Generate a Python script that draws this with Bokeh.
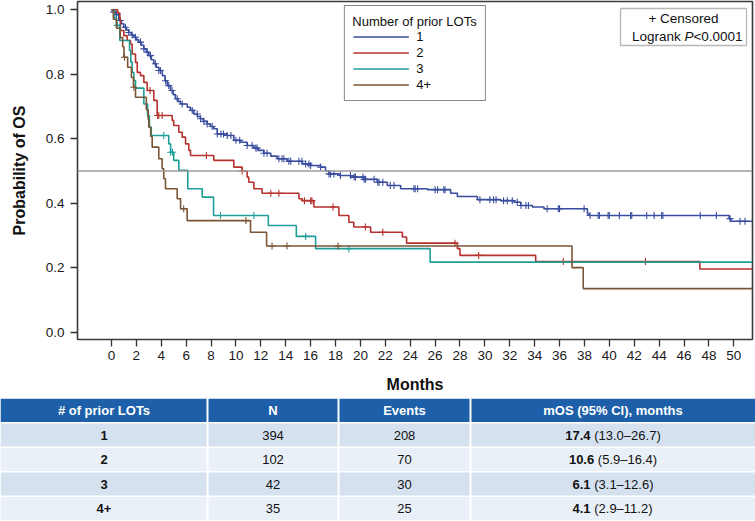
import numpy as np
from bokeh.plotting import figure
from bokeh.models import (Range1d, FixedTicker, Span, Legend, LegendItem, Label,
                          BoxAnnotation, NumeralTickFormatter)
from bokeh.layouts import column, row
from bokeh.embed import file_html
from bokeh.resources import INLINE

FONT = "Liberation Sans"

# ---------------- data ----------------
groups = ["1", "2", "3", "4+"]
colors = ["#3a4d9f", "#b5322e", "#1f9e98", "#7b5534"]

blue_t = [0, 0.18, 0.35, 0.59, 0.8, 0.99, 1.2, 1.39, 1.6, 1.79, 2.0, 2.19, 2.4, 2.6, 2.8, 3.0, 3.2, 3.4, 3.6, 3.8,
          4.08, 4.3, 4.48, 4.74, 4.95, 5.14, 5.35, 5.55, 6.09, 6.35, 6.62, 6.9, 7.15, 7.4, 7.69, 7.95, 8.22, 8.5, 9.3,
          9.83, 10.37, 10.9, 11.44, 11.8, 12.24, 12.8, 13.32, 14.12, 15.33, 16.0, 16.8, 17.2, 17.47, 18.3, 19.21,
          20.28, 21.36, 22.16, 23.23, 25.38, 27.25, 27.79, 29.4, 31.27, 32.34, 32.88, 33.82, 34.75, 38.24, 38.37,
          49.62, 49.76]
blue_s = [1.0, 0.993, 0.985, 0.967, 0.957, 0.946, 0.938, 0.93, 0.922, 0.915, 0.907, 0.9, 0.89, 0.879, 0.869, 0.858,
          0.845, 0.833, 0.822, 0.812, 0.796, 0.78, 0.765, 0.75, 0.737, 0.724, 0.716, 0.708, 0.698, 0.688, 0.677,
          0.669, 0.662, 0.654, 0.646, 0.638, 0.631, 0.615, 0.61, 0.595, 0.589, 0.579, 0.571, 0.564, 0.555, 0.546,
          0.538, 0.53, 0.522, 0.517, 0.512, 0.5, 0.491, 0.486, 0.481, 0.474, 0.465, 0.455, 0.445, 0.442, 0.431,
          0.421, 0.411, 0.408, 0.403, 0.393, 0.388, 0.383, 0.367, 0.362, 0.352, 0.344]
blue_cens = [0.18, 0.4, 0.72, 1.12, 1.39, 1.66, 1.93, 2.33, 2.6, 2.87, 3.13, 3.53, 3.8, 3.93, 4.34, 4.6, 4.87, 5.28,
             5.68, 6.49, 6.89, 7.15, 7.42, 7.69, 8.09, 8.5, 8.8, 9.0, 9.3, 9.6, 10.0, 10.3, 10.9, 11.3, 11.6, 11.7,
             12.25, 12.5, 13.45, 13.7, 13.85, 14.25, 14.4, 15.06, 15.3, 15.6, 15.86, 16.0, 16.8, 17.47, 17.6, 17.87,
             18.4, 19.2, 19.5, 19.6, 20.2, 20.3, 20.4, 21.1, 21.4, 21.5, 21.8, 22.4, 22.7, 24.3, 24.4, 24.6, 26.0,
             26.2, 26.7, 26.8, 29.6, 30.4, 30.7, 30.9, 31.5, 31.8, 32.2, 32.6, 32.9, 33.3, 33.5, 35.0, 35.9, 36.0,
             37.97, 38.45, 39.1, 39.2, 39.9, 40.0, 40.8, 41.7, 41.8, 43.0, 43.6, 44.2, 44.3, 47.3, 48.6, 49.7,
             50.5, 50.9]

red_t = [0, 0.5, 0.67, 0.72, 0.99, 1.26, 1.53, 1.66, 1.93, 2.07, 2.33, 2.6, 2.87, 3.4, 3.67, 4.88, 5.0, 5.41, 5.68,
         5.95, 6.21, 6.35, 8.22, 9.83, 10.5, 10.9, 11.03, 11.44, 12.1, 15.06, 15.33, 16.26, 18.27, 19.07, 19.47,
         20.82, 23.37, 23.71, 27.79, 28.0, 34.08, 47.27]
red_s = [1.0, 0.99, 0.97, 0.936, 0.92, 0.905, 0.894, 0.863, 0.837, 0.806, 0.796, 0.775, 0.75, 0.719, 0.672, 0.657,
         0.641, 0.62, 0.605, 0.584, 0.564, 0.548, 0.533, 0.512, 0.50, 0.481, 0.465, 0.445, 0.431, 0.414, 0.408,
         0.388, 0.362, 0.341, 0.326, 0.31, 0.295, 0.276, 0.259, 0.238, 0.219, 0.196]
red_cens = [3.1, 3.7, 3.8, 4.07, 7.63, 10.5, 12.8, 13.45, 15.5, 16.0, 16.1, 17.8, 20.4, 21.8, 27.6, 29.5, 36.3, 42.9]

teal_t = [0, 0.2, 0.4, 0.67, 1.45, 1.55, 1.66, 1.8, 1.93, 2.6, 2.9, 3.05, 3.2, 4.6, 4.75, 5.0, 5.41, 6.13, 7.29,
          8.2, 12.6, 14.85, 16.4, 25.6]
teal_s = [1.0, 0.976, 0.952, 0.905, 0.874, 0.838, 0.806, 0.781, 0.757, 0.708, 0.672, 0.636, 0.61, 0.584, 0.558,
          0.533, 0.502, 0.445, 0.419, 0.362, 0.331, 0.297, 0.259, 0.217]
teal_cens = [0.46, 4.2, 4.75, 4.9, 8.76, 11.44, 15.6, 19.07]

brown_t = [0, 0.15, 0.4, 0.7, 0.9, 1.0, 1.3, 1.6, 1.77, 1.93, 2.8, 2.95, 3.0, 3.15, 3.27, 3.8, 4.07, 4.2, 4.34,
           5.28, 5.55, 6.08, 11.17, 12.46, 37.0, 37.9]
brown_s = [1.0, 0.971, 0.943, 0.914, 0.886, 0.853, 0.822, 0.79, 0.76, 0.729, 0.69, 0.66, 0.636, 0.607, 0.574,
           0.538, 0.507, 0.476, 0.445, 0.414, 0.383, 0.346, 0.31, 0.267, 0.2, 0.135]
brown_cens = [1.05, 1.8, 5.8, 10.8, 12.9, 14.1, 18.2]

last_followup = 51.5

x_ticks = list(range(0, 51, 2))
y_ticks = [0.0, 0.2, 0.4, 0.6, 0.8, 1.0]

# table data
tbl_headers = ["# of prior LOTs", "N", "Events", "mOS (95% CI), months"]
tbl_lots = ["1", "2", "3", "4+"]
tbl_n = [394, 102, 42, 35]
tbl_events = [208, 70, 30, 25]
tbl_mos = [17.4, 10.6, 6.1, 4.1]
tbl_ci_lo = [13.0, 5.9, 3.1, 2.9]
tbl_ci_hi = [26.7, 16.4, 12.6, 11.2]

# ---------------- KM figure ----------------
W = 755
H1 = 398
X0, X1 = -2.73, 51.5
Y0, Y1 = -0.023, 1.026
ML, MR, MT, MB = 77, 3, 1, 59
FW = W - ML - MR
FH = H1 - MT - MB

p = figure(width=W, height=H1, output_backend="svg", toolbar_location=None,
           x_range=Range1d(X0, X1), y_range=Range1d(Y0, Y1),
           min_border_left=ML, min_border_right=MR, min_border_top=MT, min_border_bottom=MB)
p.grid.visible = False
p.outline_line_color = "#3a3a3a"
p.outline_line_width = 1.6
p.background_fill_color = "white"

p.xaxis.ticker = FixedTicker(ticks=x_ticks)
p.yaxis.ticker = FixedTicker(ticks=y_ticks)
p.yaxis.formatter = NumeralTickFormatter(format="0.0")
for ax in (p.xaxis, p.yaxis):
    ax.axis_line_color = None
    ax.major_tick_line_color = "#333333"
    ax.major_tick_line_width = 1.3
    ax.major_tick_in = 0
    ax.major_tick_out = 7
    ax.minor_tick_line_color = None
    ax.major_label_text_font = FONT
    ax.major_label_text_font_size = "13.5px"
    ax.major_label_text_color = "#1a1a1a"
    ax.axis_label_text_font = FONT
    ax.axis_label_text_font_size = "16px"
    ax.axis_label_text_font_style = "bold"
    ax.axis_label_text_color = "#111111"
p.xaxis.axis_label = "Months"
p.yaxis.axis_label = "Probability of OS"
p.xaxis.major_label_standoff = 4
p.yaxis.major_label_standoff = 6
p.xaxis.axis_label_standoff = 13
p.yaxis.axis_label_standoff = 15

p.add_layout(Span(location=0.5, dimension="width", line_color="#9b9b9b", line_width=1.5))

series = [(blue_t, blue_s, blue_cens), (red_t, red_s, red_cens),
          (teal_t, teal_s, teal_cens), (brown_t, brown_s, brown_cens)]
items = []
for (t_, s, c), col, g in zip(series, colors, groups):
    tx = list(t_) + [last_followup]
    sy = list(s) + [s[-1]]
    r = p.step(x=tx, y=sy, mode="after", line_color=col, line_width=1.6)
    idx = np.searchsorted(np.array(t_), np.array(c), side="right") - 1
    cy = [s[i] for i in idx]
    p.scatter(x=c, y=cy, marker="cross", size=7, line_color=col, line_width=1.1)
    items.append(LegendItem(label=g, renderers=[r]))

legend = Legend(items=items, title="Number of prior LOTs", location="top_center",
                margin=4, padding=8, spacing=1, glyph_width=56, glyph_height=15,
                label_height=15, label_standoff=8, title_standoff=0,
                border_line_color="#111111", border_line_width=1.3,
                background_fill_color="white", background_fill_alpha=1.0,
                label_text_font=FONT, label_text_font_size="13px", label_text_color="#111111",
                title_text_font=FONT, title_text_font_size="13px", title_text_font_style="normal",
                title_text_color="#111111")
p.add_layout(legend)

# censored / logrank box (positions from pixel layout)
def dx(px):
    return X0 + px * (X1 - X0) / FW

def dy(py):
    return Y1 - py * (Y1 - Y0) / FH

bl, br, bt, bb = FW - 132, FW - 6, 7, 44
p.add_layout(BoxAnnotation(left=dx(bl), right=dx(br), top=dy(bt), bottom=dy(bb),
                           fill_color="white", fill_alpha=1.0, line_color="#111111", line_width=1.3,
                           level="annotation"))
cx = (bl + br) / 2
fs = 13.5
p.add_layout(Label(x=dx(cx), y=dy(17), text="+ Censored", text_align="center", text_baseline="middle",
                   text_font=FONT, text_font_size=f"{fs}px", text_color="#111111"))
w_log = 3.613 * fs
w_sp = 0.278 * fs
w_p = 0.667 * fs
w_rest = 3.086 * fs
x_start = cx - (w_log + w_sp + w_p + w_rest) / 2
p.add_layout(Label(x=dx(x_start), y=dy(35), text="Logrank", text_align="left", text_baseline="middle",
                   text_font=FONT, text_font_size=f"{fs}px", text_color="#111111"))
p.add_layout(Label(x=dx(x_start + w_log + w_sp), y=dy(35), text="P", text_align="left", text_baseline="middle",
                   text_font=FONT, text_font_size=f"{fs}px", text_font_style="italic", text_color="#111111"))
p.add_layout(Label(x=dx(x_start + w_log + w_sp + w_p), y=dy(35), text="<0.0001", text_align="left",
                   text_baseline="middle", text_font=FONT, text_font_size=f"{fs}px", text_color="#111111"))

# ---------------- table figure ----------------
H2 = 123
t = figure(width=W, height=H2, output_backend="svg", toolbar_location=None,
           x_range=Range1d(0, W), y_range=Range1d(H2, 0),
           min_border=0, min_border_left=0, min_border_right=0, min_border_top=0, min_border_bottom=0,
           x_axis_type=None, y_axis_type=None)
t.grid.visible = False
t.outline_line_color = None

col_edges = [0, 207, 338, 470, W]
col_centers = [(a + b) / 2 for a, b in zip(col_edges[:-1], col_edges[1:])]
header_color = "#1d5fa9"
row_colors = ["#d6e1f0", "#eaf0f8", "#d6e1f0", "#eaf0f8"]
hdr_top, hdr_bot = 0, 23.5
row_tops = [25 + 24.5 * i for i in range(4)]
row_h = 23
gap = 1

lefts = [a + (gap if i > 0 else 0) for i, a in enumerate(col_edges[:-1])]
rights = [b - (gap if i < 3 else 0) for i, b in enumerate(col_edges[1:])]

# header cells
t.quad(left=lefts, right=rights, top=[hdr_top] * 4, bottom=[hdr_bot] * 4,
       fill_color=header_color, line_color=None)
t.text(x=col_centers, y=[(hdr_top + hdr_bot) / 2] * 4, text=tbl_headers, text_align="center",
       text_baseline="middle", text_font={"value": FONT}, text_font_size={"value": "13px"},
       text_font_style="bold", text_color="white")

# body cells
for r_i in range(4):
    t.quad(left=lefts, right=rights, top=[row_tops[r_i]] * 4, bottom=[row_tops[r_i] + row_h] * 4,
           fill_color=row_colors[r_i], line_color=None)

ys = [rt + row_h / 2 for rt in row_tops]
t.text(x=[col_centers[0]] * 4, y=ys, text=tbl_lots, text_align="center", text_baseline="middle",
       text_font={"value": FONT}, text_font_size={"value": "13px"}, text_font_style="bold", text_color="#111111")
t.text(x=[col_centers[1]] * 4, y=ys, text=[str(v) for v in tbl_n], text_align="center", text_baseline="middle",
       text_font={"value": FONT}, text_font_size={"value": "13px"}, text_color="#111111")
t.text(x=[col_centers[2]] * 4, y=ys, text=[str(v) for v in tbl_events], text_align="center",
       text_baseline="middle", text_font={"value": FONT}, text_font_size={"value": "13px"}, text_color="#111111")

# mOS cells: bold median + regular CI, centred as a whole
tfs = 13.0
adv = {"0": .556, "1": .556, "2": .556, "3": .556, "4": .556, "5": .556, "6": .556, "7": .556, "8": .556,
       "9": .556, ".": .278, "(": .333, ")": .333, "\u2013": .556, " ": .278}

def tw(s):
    return sum(adv.get(ch, .556) for ch in s) * tfs

bold_txt = [f"{m:.1f}" for m in tbl_mos]
ci_txt = [f"({lo:.1f}\u2013{hi:.1f})" for lo, hi in zip(tbl_ci_lo, tbl_ci_hi)]
bx, rx = [], []
for b, c in zip(bold_txt, ci_txt):
    total = tw(b) + tw(" ") + tw(c)
    x0 = col_centers[3] - total / 2
    bx.append(x0 + tw(b))
    rx.append(x0 + tw(b) + tw(" "))
t.text(x=bx, y=ys, text=bold_txt, text_align="right", text_baseline="middle",
       text_font={"value": FONT}, text_font_size={"value": "13px"}, text_font_style="bold", text_color="#111111")
t.text(x=rx, y=ys, text=ci_txt, text_align="left", text_baseline="middle",
       text_font={"value": FONT}, text_font_size={"value": "13px"}, text_color="#111111")

layout = column(p, row(t), spacing=0)
open("out.html", "w").write(file_html(layout, INLINE))
